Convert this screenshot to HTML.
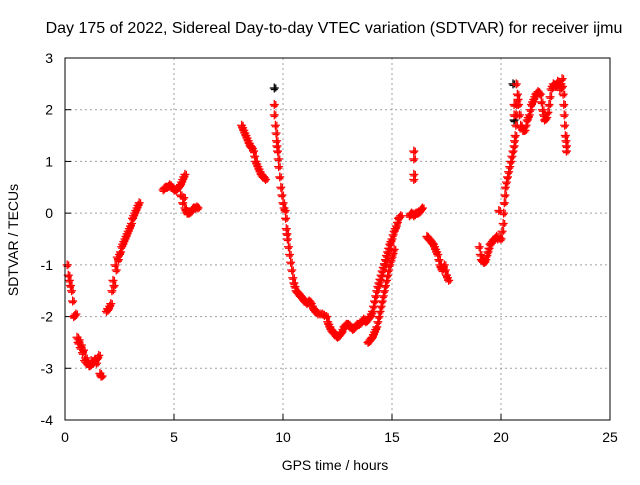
<!DOCTYPE html>
<html><head><meta charset="utf-8"><style>
body{margin:0;background:#fff}
svg text{font-family:"Liberation Sans",sans-serif;font-size:14px;fill:#000}
</style></head><body>
<svg id="chart" width="640" height="480" viewBox="0 0 640 480" xmlns="http://www.w3.org/2000/svg">
<rect width="640" height="480" fill="#fff"/>
<g id="grid"></g>
<g id="ticks"></g>
<g id="marks"></g>
<rect x="65" y="58" width="545" height="362" fill="none" stroke="#000" stroke-width="1"/>
<text x="334" y="33" text-anchor="middle" style="font-size:16px">Day 175 of 2022, Sidereal Day-to-day VTEC variation (SDTVAR) for receiver ijmu</text>
<text x="335" y="470" text-anchor="middle">GPS time / hours</text>
<text transform="translate(18,240) rotate(-90)" text-anchor="middle">SDTVAR / TECUs</text>
</svg>
<script>
const xTicks=[0,5,10,15,20,25];
const yTicks=[3,2,1,0,-1,-2,-3,-4];
const hours=[0.1,0.15,0.2,0.3,0.35,0.4,0.5,0.55,0.6,0.7,0.8,0.9,1.0,1.1,1.2,1.3,1.4,1.5,1.6,1.7,
1.9,2.0,2.1,2.15,2.2,2.3,2.4,2.5,2.6,2.7,2.8,2.9,3.0,3.1,3.2,3.3,3.4,
4.5,4.6,4.7,4.8,4.9,5.0,5.1,5.2,5.3,5.4,5.5,5.3,5.4,5.5,5.6,5.7,5.8,5.9,6.0,6.1,
8.1,8.2,8.3,8.4,8.5,8.6,8.7,8.8,8.9,9.0,9.1,9.2,
9.6,9.6,9.65,9.7,9.75,9.8,9.9,10.0,10.1,10.15,10.2,10.3,10.4,10.5,10.6,10.7,10.8,10.9,11.0,11.1,11.2,11.3,11.4,11.5,11.6,11.8,12.0,12.1,12.2,12.3,12.4,12.5,12.6,12.7,12.8,12.9,13.0,13.1,13.2,13.3,13.4,13.5,13.6,13.7,13.8,13.9,14.0,14.1,14.2,14.3,14.4,14.5,14.6,14.7,14.8,14.9,15.0,15.1,15.2,15.3,15.4,
13.9,14.0,14.1,14.2,14.3,14.4,14.5,14.6,14.7,14.8,14.9,15.0,15.1,
15.8,15.9,16.0,16.1,16.2,16.3,16.4,16.0,16.0,16.0,16.0,
16.6,16.7,16.8,16.9,17.0,17.1,17.2,17.3,17.4,17.5,17.6,
19.0,19.1,19.2,19.3,19.4,19.5,19.6,19.7,19.8,19.9,20.0,20.1,20.15,20.2,20.3,20.4,20.5,20.6,20.65,20.7,20.75,20.8,20.9,21.0,21.1,21.2,21.3,21.4,21.5,21.6,21.7,21.8,21.9,22.0,22.1,22.2,22.3,22.4,22.5,22.6,22.7,22.8,22.85,22.9,22.95,23.0,23.0,20.6,20.6,20.7,
0.25,0.45,0.65,0.75,0.85,0.95,1.05,1.15,1.25,1.35,1.45,1.55,1.65,
1.95,2.05,2.25,2.35,2.45,2.55,2.65,2.75,2.85,2.95,3.05,3.15,3.25,3.35,
4.55,4.65,4.75,4.85,4.95,5.05,5.15,5.25,5.35,5.45,5.45,5.55,5.65,5.75,5.85,5.95,6.05,
8.15,8.25,8.35,8.45,8.55,8.65,8.75,8.85,8.95,9.05,9.15,
9.68,9.72,9.78,9.85,9.95,10.05,10.12,10.18,10.25,10.35,10.45,10.55,10.65,10.75,10.85,10.95,11.05,11.15,11.25,11.35,11.45,11.55,11.7,11.9,12.05,12.15,12.25,12.35,12.45,12.55,12.65,12.75,12.85,12.95,13.05,13.15,13.25,13.35,13.45,13.55,13.65,13.75,13.85,13.95,14.05,14.15,14.25,14.35,14.45,14.55,14.65,14.75,14.85,14.95,15.05,15.15,15.25,15.35,
13.95,14.05,14.15,14.25,14.35,14.45,14.55,14.65,14.75,14.85,14.95,15.05,
15.85,15.95,16.05,16.15,16.25,16.35,
16.65,16.75,16.85,16.95,17.05,17.15,17.25,17.35,17.45,17.55,
19.05,19.15,19.25,19.35,19.45,19.55,19.65,19.75,19.85,19.95,20.05,20.12,20.18,20.25,20.35,20.45,20.55,20.62,20.68,20.72,20.78,20.85,20.95,21.05,21.15,21.25,21.35,21.45,21.55,21.65,21.75,21.85,21.95,22.05,22.15,22.25,22.35,22.45,22.55,22.65,22.75,22.82,22.88,22.92,22.98];
const sdtvar=[-1.0,-1.2,-1.3,-1.5,-1.7,-2.0,-1.95,-2.4,-2.5,-2.6,-2.7,-2.85,-2.9,-2.95,-2.85,-2.9,-2.85,-2.8,-3.1,-3.15,
-1.9,-1.85,-1.75,-1.5,-1.3,-1.0,-0.85,-0.8,-0.65,-0.55,-0.45,-0.35,-0.25,-0.1,0.0,0.1,0.2,
0.45,0.5,0.5,0.55,0.5,0.45,0.45,0.5,0.55,0.65,0.75,0.35,0.2,0.1,0.0,0.0,0.05,0.1,0.1,0.1,
1.7,1.6,1.5,1.4,1.3,1.25,1.1,0.95,0.85,0.75,0.7,0.65,
2.1,1.9,1.7,1.4,1.2,0.9,0.5,0.2,0.05,-0.3,-0.5,-0.8,-1.1,-1.35,-1.5,-1.55,-1.6,-1.65,-1.7,-1.75,-1.7,-1.75,-1.85,-1.9,-1.95,-1.95,-2.0,-2.15,-2.25,-2.3,-2.35,-2.4,-2.35,-2.3,-2.2,-2.15,-2.15,-2.2,-2.25,-2.2,-2.15,-2.15,-2.1,-2.05,-2.1,-2.05,-2.0,-1.9,-1.7,-1.5,-1.35,-1.2,-1.05,-0.9,-0.75,-0.6,-0.5,-0.35,-0.25,-0.1,-0.05,
-2.5,-2.45,-2.4,-2.3,-2.2,-2.0,-1.8,-1.6,-1.4,-1.2,-1.0,-0.85,-0.7,
-0.05,0.0,-0.05,0.0,0.0,0.05,0.1,1.2,1.05,0.75,0.65,
-0.45,-0.5,-0.55,-0.6,-0.7,-0.8,-1.0,-1.1,-1.0,-1.2,-1.3,
-0.65,-0.9,-0.95,-0.9,-0.75,-0.6,-0.55,-0.5,-0.45,0.05,-0.5,-0.2,0.2,0.5,0.7,0.9,1.1,1.3,1.5,1.9,2.3,2.1,1.7,1.6,1.6,1.8,1.9,2.1,2.2,2.3,2.35,2.3,2.0,1.8,1.85,2.1,2.4,2.5,2.45,2.55,2.4,2.6,2.3,1.9,1.5,1.3,1.2,1.9,2.1,2.5,
-1.4,-1.98,-2.45,-2.55,-2.65,-2.8,-2.9,-2.95,-2.9,-2.85,-2.9,-2.75,-3.15,
-1.85,-1.8,-1.4,-1.1,-0.9,-0.75,-0.6,-0.5,-0.4,-0.3,-0.2,-0.05,0.05,0.15,
0.48,0.5,0.52,0.52,0.48,0.45,0.48,0.52,0.6,0.7,0.3,0.05,0.0,0.02,0.08,0.1,0.12,
1.65,1.55,1.45,1.35,1.28,1.2,1.0,0.9,0.8,0.72,0.68,
1.55,1.3,1.05,0.7,0.35,0.1,-0.1,-0.4,-0.65,-0.95,-1.25,-1.42,-1.52,-1.58,-1.62,-1.68,-1.72,-1.72,-1.72,-1.8,-1.88,-1.92,-1.95,-1.98,-2.1,-2.2,-2.28,-2.32,-2.38,-2.38,-2.32,-2.25,-2.18,-2.15,-2.18,-2.22,-2.22,-2.18,-2.15,-2.12,-2.08,-2.08,-2.08,-2.02,-1.95,-1.8,-1.6,-1.42,-1.28,-1.12,-0.98,-0.82,-0.68,-0.55,-0.42,-0.3,-0.18,-0.08,
-2.48,-2.42,-2.35,-2.25,-2.1,-1.9,-1.7,-1.5,-1.3,-1.1,-0.92,-0.78,
-0.02,-0.02,-0.02,0.0,0.02,0.08,
-0.48,-0.52,-0.58,-0.65,-0.75,-0.9,-1.05,-1.05,-1.1,-1.25,
-0.8,-0.92,-0.95,-0.82,-0.68,-0.58,-0.52,-0.48,-0.5,-0.48,-0.35,0.0,0.35,0.6,0.8,1.0,1.2,1.4,1.7,2.1,2.2,1.9,1.65,1.6,1.7,1.85,2.0,2.15,2.25,2.32,2.32,2.15,1.9,1.82,1.95,2.25,2.45,2.48,2.5,2.48,2.5,2.45,2.1,1.7,1.4];
const blackHours=[9.6,20.55,20.6];
const blackVals=[2.42,2.5,1.8];
const X0=65,X1=610,Y0=58,Y1=420,XMIN=0,XMAX=25,YMIN=-4,YMAX=3;
function xs(v){return X0+(v-XMIN)/(XMAX-XMIN)*(X1-X0);}
function ys(v){return Y1-(v-YMIN)/(YMAX-YMIN)*(Y1-Y0);}
const NS="http://www.w3.org/2000/svg";
const grid=document.getElementById('grid'),ticks=document.getElementById('ticks'),marks=document.getElementById('marks');
function mk(t,a,p){const e=document.createElementNS(NS,t);for(const k in a)e.setAttribute(k,a[k]);p.appendChild(e);return e;}
xTicks.forEach(t=>{const x=xs(t);
 if(t>XMIN&&t<XMAX){const g=mk('line',{x1:x,x2:x,y1:Y0,y2:Y1,stroke:'#a0a0a0','stroke-dasharray':'2,3'},grid);
 
 }
 const tl=mk('line',{x1:x,x2:x,y1:Y1,y2:Y1-6,stroke:'#000'},ticks);
 
 
 const tx=mk('text',{x:x,y:Y1+22,'text-anchor':'middle'},ticks);tx.textContent=t;
 
 });
yTicks.forEach(t=>{const y=ys(t);
 if(t>YMIN&&t<YMAX){const g=mk('line',{x1:X0,x2:X1,y1:y,y2:y,stroke:'#a0a0a0','stroke-dasharray':'2,3'},grid);
 
 }
 const tl=mk('line',{x1:X0,x2:X0+6,y1:y,y2:y,stroke:'#000'},ticks);
 
 
 const tx=mk('text',{x:X0-12,y:y+5,'text-anchor':'end'},ticks);tx.textContent=t;
 
 });
function plus(h,v,col){const x=xs(h),y=ys(v);
 const p=mk('path',{d:`M${x-4.5},${y}h9M${x},${y-4.5}v9M${x-3.5},${y+1.5}h7M${x+1.5},${y-3.5}v7`,stroke:col,'stroke-width':1.3,fill:'none'},marks);
 
 }
blackHours.forEach((h,i)=>plus(h,blackVals[i],'#000'));
hours.forEach((h,i)=>plus(h,sdtvar[i],'#ff0000'));
</script>
</body></html>
